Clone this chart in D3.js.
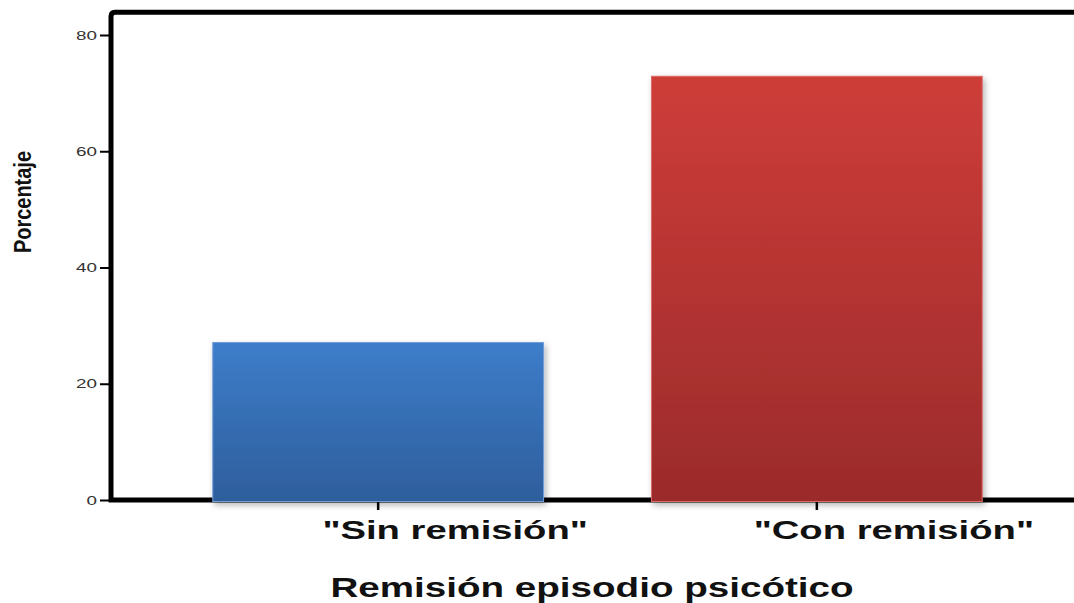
<!DOCTYPE html>
<html lang="es">
<head>
  <meta charset="UTF-8">
  <title>Remisión episodio psicótico</title>
  <script src="https://d3js.org/d3.v7.min.js"></script>
  <style>
    body { margin: 0; background: #fff; }
    svg { display: block; font-family: "Liberation Sans", Arial, sans-serif; }
  </style>
</head>
<body>
  <svg id="chart" width="1074" height="603"></svg>
  <script>
    // data
    const categories = ['"Sin remisión"', '"Con remisión"'];
    const values = [27.1, 72.9];
    const yTicks = [0, 20, 40, 60, 80];
    const colorsTop = ["#3d7dca", "#ce3d39"];
    const colorsBottom = ["#2e5e9c", "#9b2b2b"];
    const colorsEdge = ["#6e9dd8", "#dc6a66"];

    const stretch = 1.45; // the original image is stretched horizontally

    const svg = d3.select("#chart");
    const left = 111, bottom = 500;

    const x = d3.scaleBand()
      .domain(categories)
      .range([left, 1084])
      .paddingInner(0.246)
      .paddingOuter(0.232);

    const y = d3.scaleLinear().domain([0, 80]).range([bottom, 35]);
    const yTop = y(83.9);

    const defs = svg.append("defs");
    categories.forEach((c, i) => {
      const grad = defs.append("linearGradient")
        .attr("id", "grad" + i)
        .attr("x1", 0).attr("y1", 0).attr("x2", 0).attr("y2", 1);
      grad.append("stop").attr("offset", "0%").attr("stop-color", colorsTop[i]);
      grad.append("stop").attr("offset", "100%").attr("stop-color", colorsBottom[i]);
    });
    const shadow = defs.append("filter").attr("id", "shadow")
      .attr("x", "-10%").attr("y", "-10%").attr("width", "130%").attr("height", "130%");
    shadow.append("feDropShadow")
      .attr("dx", 2).attr("dy", 3).attr("stdDeviation", 3)
      .attr("flood-color", "#000").attr("flood-opacity", 0.3);

    // frame: left, top and bottom lines (drawn under the bars)
    svg.append("path")
      .attr("d", `M1074,${yTop} L${left + 4},${yTop} Q${left},${yTop} ${left},${yTop + 4} L${left},${bottom} L1074,${bottom}`)
      .attr("fill", "none")
      .attr("stroke", "#000")
      .attr("stroke-width", 5);

    // x axis ticks
    const xAxis = svg.append("g")
      .attr("transform", `translate(0,${bottom})`)
      .call(d3.axisBottom(x).tickSize(10).tickFormat(""));
    xAxis.select(".domain").remove();
    xAxis.selectAll(".tick line").attr("stroke", "#000").attr("stroke-width", 2.5);

    // bars
    svg.selectAll(".bar")
      .data(values)
      .enter()
      .append("rect")
      .attr("class", "bar")
      .attr("x", (d, i) => x(categories[i]))
      .attr("y", d => y(d))
      .attr("width", x.bandwidth())
      .attr("height", d => y(0) - y(d) + 1.5)
      .attr("fill", (d, i) => `url(#grad${i})`)
      .attr("stroke", (d, i) => colorsEdge[i])
      .attr("stroke-width", 1)
      .attr("filter", "url(#shadow)");

    // y axis
    const yAxis = svg.append("g")
      .attr("transform", `translate(${left},0)`)
      .call(d3.axisLeft(y).tickValues(yTicks).tickSize(11).tickFormat(d3.format("d")));
    yAxis.select(".domain").remove();
    yAxis.selectAll(".tick line").attr("stroke", "#000").attr("stroke-width", 2);
    yAxis.selectAll(".tick text")
      .attr("x", -14 / stretch)
      .attr("transform", `scale(${stretch},1)`)
      .attr("font-size", 13)
      .attr("fill", "#333");

    // category labels
    svg.selectAll(".cat")
      .data(categories)
      .enter()
      .append("text")
      .attr("class", "cat")
      .attr("transform", d => `translate(${x(d) + x.bandwidth() / 2 + 77},539) scale(${stretch + 0.02},1)`)
      .attr("text-anchor", "middle")
      .attr("font-size", 26)
      .attr("font-weight", "bold")
      .attr("fill", "#111")
      .text(d => d);

    // axis titles
    svg.append("text")
      .attr("transform", `translate(592,597) scale(1.43,1)`)
      .attr("text-anchor", "middle")
      .attr("font-size", 27)
      .attr("font-weight", "bold")
      .attr("fill", "#111")
      .text("Remisión episodio psicótico");

    svg.append("text")
      .attr("transform", `translate(31,202) scale(${stretch},1) rotate(-90)`)
      .attr("text-anchor", "middle")
      .attr("font-size", 16)
      .attr("font-weight", "bold")
      .attr("textLength", 102)
      .attr("lengthAdjust", "spacingAndGlyphs")
      .attr("fill", "#111")
      .text("Porcentaje");
  </script>
</body>
</html>
